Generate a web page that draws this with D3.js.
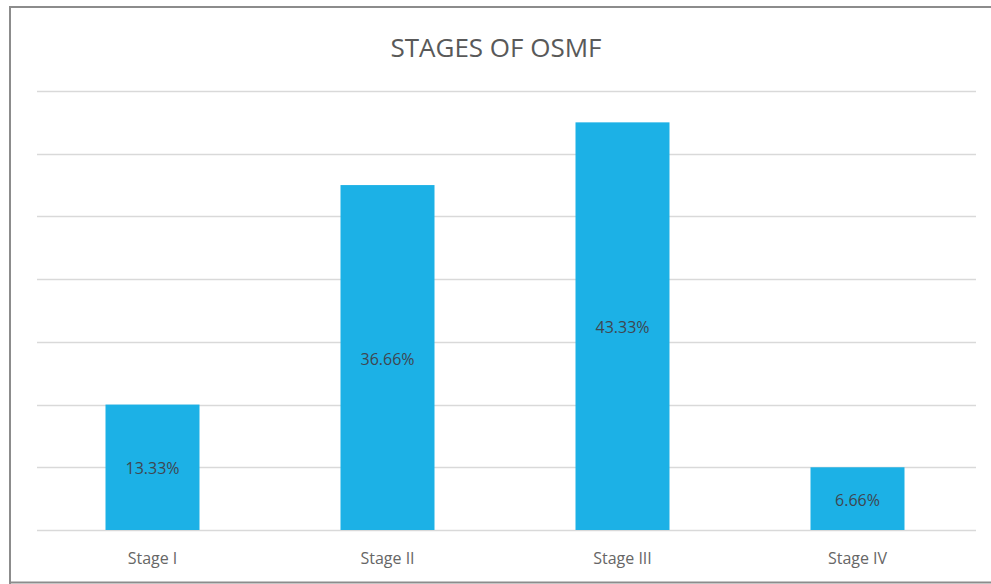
<!DOCTYPE html>
<html><head><meta charset="utf-8">
<script src="https://cdn.jsdelivr.net/npm/d3@7/dist/d3.min.js"></script>
<style>body{margin:0;background:#fff}svg{display:block}</style>
</head><body>
<script>
const categories = ["Stage I", "Stage II", "Stage III", "Stage IV"];
const counts = [4, 11, 13, 2];
const percentLabels = ["13.33%", "36.66%", "43.33%", "6.66%"];
const yTicks = [0, 2, 4, 6, 8, 10, 12, 14];
const title = "STAGES OF OSMF";

const W = 991, H = 584;
const svg = d3.select("body").append("svg").attr("width", W).attr("height", H);
svg.append("rect").attr("width", W).attr("height", H).attr("fill", "#fff");

// outer frame
svg.append("path").attr("d", `M10,${H+5} L10,7 L${W+5},7 M10,582.5 L${W+5},582.5`)
  .attr("fill", "none").attr("stroke", "#8c8c8c").attr("stroke-width", 2);

const x = d3.scaleBand().domain(categories).range([35, 975]).paddingInner(0.6).paddingOuter(0.3);
const y = d3.scaleLinear().domain([0, 14]).range([530, 91]);

svg.append("g").selectAll("line").data(yTicks).join("line")
  .attr("x1", 37).attr("x2", 976)
  .attr("y1", d => Math.round(y(d)) + 0.5).attr("y2", d => Math.round(y(d)) + 0.5)
  .attr("stroke", "#d9d9d9").attr("stroke-width", 1.3);

svg.append("g").selectAll("rect").data(counts).join("rect")
  .attr("x", (d, i) => x(categories[i]))
  .attr("width", x.bandwidth())
  .attr("y", d => y(d))
  .attr("height", d => y(0) - y(d))
  .attr("fill", "#1cb1e6");

svg.append("g").selectAll("text").data(counts).join("text")
  .attr("x", (d, i) => x(categories[i]) + x.bandwidth() / 2)
  .attr("y", d => (y(d) + y(0)) / 2 + 7)
  .attr("text-anchor", "middle")
  .attr("font-family", "Open Sans, sans-serif").attr("font-size", 16)
  .attr("fill", "#3f4650")
  .text((d, i) => percentLabels[i]);

const xAxis = d3.axisBottom(x).tickSize(0).tickPadding(0);
const gx = svg.append("g").attr("transform", "translate(0,530)").call(xAxis);
gx.select(".domain").remove();
gx.selectAll("text").attr("dy", null).attr("y", 34)
  .attr("font-family", "Open Sans, sans-serif").attr("font-size", 16).attr("fill", "#666666");

svg.append("text").attr("x", 496).attr("y", 57).attr("text-anchor", "middle")
  .attr("font-family", "Open Sans, sans-serif").attr("font-size", 26).attr("fill", "#595959")
  .text(title);
</script>
</body></html>
